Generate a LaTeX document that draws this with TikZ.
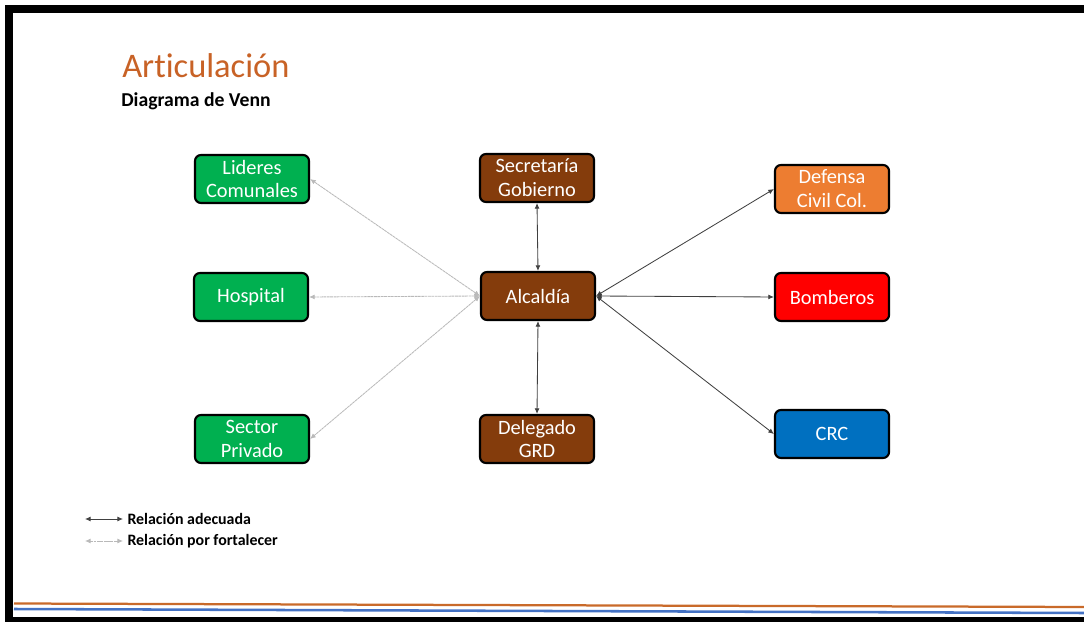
\documentclass[tikz,border=0pt]{standalone}
\usepackage{fontspec}
\setmainfont[Ligatures=NoCommon]{Carlito}
\usetikzlibrary{arrows.meta}
\definecolor{verde}{RGB}{0,176,80}
\definecolor{cafe}{RGB}{132,60,12}
\definecolor{naranja}{RGB}{237,125,49}
\definecolor{rojo}{RGB}{255,0,0}
\definecolor{azul}{RGB}{0,112,192}
\definecolor{titulo}{RGB}{200,98,38}
\definecolor{lineaazul}{RGB}{68,114,196}
\tikzstyle{ent} = [draw=black, line width=1.5pt, rounded corners=0.15cm, minimum width=2.85cm, minimum height=1.2cm, align=center, text=white, font={\fontsize{14.5}{17}\selectfont}]
\tikzstyle{adecuada} = [black!75, line width=0.6pt, {Latex[length=4pt,width=3.5pt]}-{Latex[length=4pt,width=3.5pt]}]
\tikzstyle{fortalecer} = [gray!55, line width=0.6pt, dash pattern=on 2pt off 0.4pt, {Latex[length=4pt,width=3.5pt]}-{Latex[length=4pt,width=3.5pt]}]

\begin{document}
\begin{tikzpicture}[x=0.025cm, y=-0.025cm]
    \useasboundingbox (0,0) rectangle (1084,622);
    % marco
    \fill[black] (5,5) rectangle (1084,13);
    \fill[black] (5,5) rectangle (13,622);
    \fill[black] (5,617) rectangle (1084,622);
    \draw[naranja!85!black, line width=1.6pt] (14,603.5) -- (1084,607);
    \draw[lineaazul, line width=1.8pt] (14,609) -- (1084,613);
    % titulos
    \node[anchor=base west, inner sep=0pt, text=titulo, font={\fontsize{24.5}{28}\selectfont}](tit) at (122,78){Articulación};
    \node[anchor=base west, inner sep=0pt, font={\fontsize{14}{16}\selectfont\bfseries}](sub) at (121,107){Diagrama de Venn};
    % entidades
    \node[ent, fill=cafe](alc) at (538,296){Alcaldía};
    \node[ent, fill=cafe](sec) at (537,178){Secretaría\\Gobierno};
    \node[ent, fill=cafe](del) at (537,439){Delegado\\GRD};
    \node[ent, fill=verde](lid) at (252,179){Lideres\\Comunales};
    \node[ent, fill=verde](hos) at (251,297){Hospital};
    \node[ent, fill=verde](spr) at (252,439){Sector\\Privado};
    \node[ent, fill=naranja](dcc) at (832,189){Defensa\\Civil Col.};
    \node[ent, fill=rojo](bom) at (832,297){Bomberos};
    \node[ent, fill=azul](crc) at (832,434){CRC};
    % relaciones
    \draw[adecuada](alc.north)--(sec.south);
    \draw[adecuada](alc.south)--(del.north);
    \draw[adecuada](alc.east)--(dcc.west);
    \draw[adecuada](alc.east)--(bom.west);
    \draw[adecuada](alc.east)--(crc.west);
    \draw[fortalecer](alc.west)--(lid.east);
    \draw[fortalecer](alc.west)--(hos.east);
    \draw[fortalecer](alc.west)--(spr.east);
    % convenciones
    \coordinate(a1) at (85,519);
    \coordinate(a2) at (123,519);
    \coordinate(f1) at (85,541);
    \coordinate(f2) at (123,541);
    \draw[adecuada](a1)--(a2);
    \draw[fortalecer](f1)--(f2);
    \node[anchor=west, inner sep=0pt, xshift=3pt, font={\fontsize{11.3}{13}\selectfont\bfseries}](ta) at (a2){Relación adecuada};
    \node[anchor=west, inner sep=0pt, xshift=3pt, font={\fontsize{11.3}{13}\selectfont\bfseries}](tf) at (f2){Relación por fortalecer};
\end{tikzpicture}
\end{document}
